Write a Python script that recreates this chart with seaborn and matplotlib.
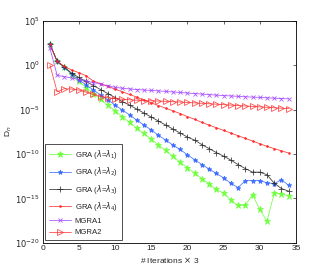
import numpy as np
import pandas as pd
import matplotlib
matplotlib.use("Agg")
import matplotlib.pyplot as plt
import seaborn as sns

iters = list(range(1, 35))

# log10 of D_n
gra1 = [2.37, 0.42, -0.23, -1.1, -1.84, -2.52, -3.2, -3.85, -4.5, -5.15, -5.8, -6.45,
        -7.1, -7.7, -8.35, -9.0, -9.6, -10.27, -10.95, -11.55, -12.15, -12.8, -13.35,
        -14.0, -14.4, -15.2, -15.8, -15.8, -14.6, -16.25, -17.6, -14.4, -14.5, -14.7]
gra2 = [2.37, 0.42, -0.23, -1.0, -1.66, -2.22, -2.8, -3.35, -3.9, -4.5, -5.05, -5.6,
        -6.2, -6.75, -7.3, -7.9, -8.45, -9.0, -9.5, -10.1, -10.65, -11.2, -11.7, -12.2,
        -12.7, -13.3, -13.8, -13.0, -13.0, -13.0, -13.25, -13.35, -12.9, -13.55]
gra3 = [2.37, 0.42, -0.23, -0.9, -1.39, -1.84, -2.3, -2.75, -3.2, -3.65, -4.1, -4.5,
        -4.95, -5.4, -5.85, -6.3, -6.75, -7.2, -7.65, -8.1, -8.45, -8.95, -9.4, -9.85,
        -10.25, -10.7, -11.2, -11.65, -12.05, -12.05, -12.35, -13.3, -13.9, -14.2]
gra4 = [2.37, 0.42, -0.15, -0.55, -0.85, -1.2, -1.8, -2.1, -2.4, -2.7, -3.0, -3.3,
        -3.6, -3.95, -4.25, -4.55, -4.85, -5.15, -5.45, -5.8, -6.1, -6.45, -6.75, -7.05,
        -7.35, -7.65, -7.95, -8.25, -8.55, -8.85, -9.15, -9.4, -9.65, -9.9]
mgra1 = [1.9, -1.15, -1.3, -1.45, -1.62, -1.8, -1.97, -2.14, -2.33, -2.5, -2.6, -2.68,
         -2.75, -2.8, -2.85, -2.9, -2.96, -3.02, -3.08, -3.14, -3.2, -3.26, -3.32, -3.38,
         -3.43, -3.47, -3.52, -3.56, -3.6, -3.64, -3.68, -3.72, -3.76, -3.8]
mgra2 = [0.0, -3.0, -2.65, -2.7, -2.8, -3.05, -3.3, -3.55, -3.68, -3.78, -3.85, -3.9,
         -3.95, -3.99, -4.02, -4.05, -4.08, -4.12, -4.16, -4.2, -4.25, -4.3, -4.35, -4.4,
         -4.45, -4.5, -4.55, -4.6, -4.65, -4.7, -4.75, -4.8, -4.85, -4.9]

labels = [r"GRA ($\lambda$=$\lambda_1$)", r"GRA ($\lambda$=$\lambda_2$)",
          r"GRA ($\lambda$=$\lambda_3$)", r"GRA ($\lambda$=$\lambda_4$)",
          "MGRA1", "MGRA2"]
series = [gra1, gra2, gra3, gra4, mgra1, mgra2]
colors = ["#66ff33", "#3366ff", "#222222", "#ff2222", "#a040ff", "#ff3030"]
markers = ["*", "*", "+", ".", "x", ">"]
msizes = [4.5, 3.5, 4.5, 2.5, 3.5, 4.5]

sns.set_style("white")
plt.rcParams['font.family'] = ['Liberation Sans', 'DejaVu Sans']
plt.rcParams['mathtext.fontset'] = 'dejavusans'

fig = plt.figure(figsize=(3.27, 2.73), dpi=100)
ax = fig.add_axes([0.1306, 0.111, 0.7744, 0.813])

for lab, vals, c, m, ms in zip(labels, series, colors, markers, msizes):
    df = pd.DataFrame({"x": iters, "y": np.power(10.0, vals)})
    face = "none" if m == ">" else c
    sns.lineplot(data=df, x="x", y="y", ax=ax, color=c, marker=m, markersize=ms,
                 markerfacecolor=face, markeredgecolor=c, markeredgewidth=0.6,
                 linewidth=0.6, label=lab, alpha=0.85)

ax.set_yscale("log")
ax.set_xlim(0, 35)
ax.set_ylim(1e-20, 1e5)
ax.set_xticks([0, 5, 10, 15, 20, 25, 30, 35])
ax.set_yticks([1e-20, 1e-15, 1e-10, 1e-5, 1e0, 1e5])
ax.set_yticklabels([r"$10^{-20}$", r"$10^{-15}$", r"$10^{-10}$", r"$10^{-5}$",
                    r"$10^{0}$", r"$10^{5}$"])
ax.minorticks_off()
ax.tick_params(direction="in", length=2.5, width=0.5, labelsize=6, top=True,
               right=True, pad=2)
for s in ax.spines.values():
    s.set_linewidth(0.6)
    s.set_color("black")
ax.set_xlabel(r"# Iterations $\times$ 3", fontsize=6, labelpad=2)
ax.set_ylabel(r"D$_n$", fontsize=6, labelpad=1)

leg = ax.legend(loc="lower left", fontsize=5.6, frameon=True, fancybox=False,
                edgecolor="black", handlelength=2.9, borderpad=0.5,
                labelspacing=0.55, borderaxespad=0.3, handletextpad=0.4)
leg.get_frame().set_linewidth(0.6)

fig.savefig("out.png", dpi=100)
